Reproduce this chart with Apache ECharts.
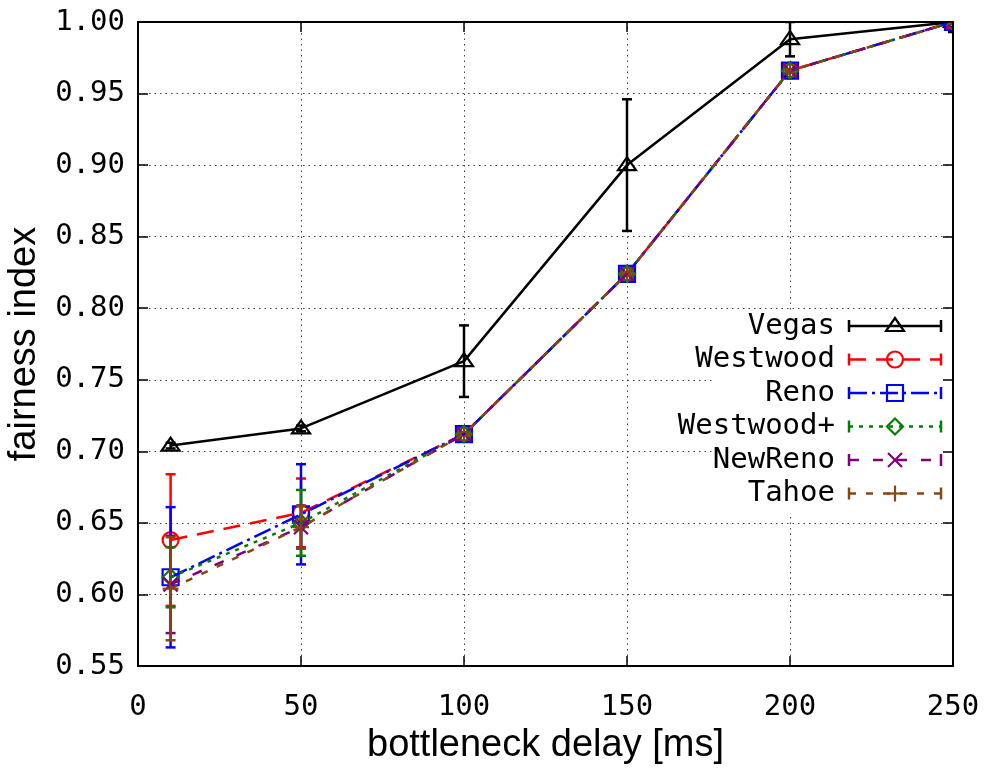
<!DOCTYPE html>
<html>
<head>
<meta charset="utf-8">
<script src="https://cdn.jsdelivr.net/npm/echarts@6/dist/echarts.min.js"></script>
<style>
html,body{margin:0;padding:0;background:#fff;}
#chart{width:985px;height:768px;}
</style>
</head>
<body>
<div id="chart"></div>
<script>
// ---- data ----
const delays = [10, 50, 100, 150, 200, 250];
const xTicks = [0, 50, 100, 150, 200, 250];
const yTicks = [0.55, 0.60, 0.65, 0.70, 0.75, 0.80, 0.85, 0.90, 0.95, 1.00];
const seriesNames = ['Vegas', 'Westwood', 'Reno', 'Westwood+', 'NewReno', 'Tahoe'];

const vegas       = [0.704, 0.716, 0.763, 0.900, 0.988, 1.000];
const vegasErr    = [0.002, 0.002, 0.025, 0.046, 0.012, 0.007];
const westwood    = [0.638, 0.657, 0.712, 0.824, 0.966, 1.000];
const westwoodErr = [0.046, 0.024, 0.001, 0.001, 0.001, 0.001];
const reno        = [0.612, 0.656, 0.712, 0.824, 0.966, 1.000];
const renoErr     = [0.049, 0.035, 0.001, 0.001, 0.001, 0.001];
const wplus       = [0.612, 0.650, 0.712, 0.824, 0.966, 1.000];
const wplusErr    = [0.021, 0.023, 0.001, 0.001, 0.001, 0.001];
const newreno     = [0.607, 0.647, 0.712, 0.824, 0.966, 1.000];
const newrenoErr  = [0.034, 0.015, 0.001, 0.001, 0.001, 0.001];
const tahoe       = [0.604, 0.647, 0.712, 0.824, 0.966, 1.000];
const tahoeErr    = [0.036, 0.015, 0.001, 0.001, 0.001, 0.001];

const values = [vegas, westwood, reno, wplus, newreno, tahoe];
const errors = [vegasErr, westwoodErr, renoErr, wplusErr, newrenoErr, tahoeErr];

// ---- styles ----
const colors = ['#000000', '#ff0000', '#0000ff', '#008000', '#800080', '#8b4513'];
const dashes = ['solid', [17, 10], [18, 5, 3, 5], [4, 6], [10, 14], [7, 10]];
const markers = ['tri', 'circ', 'sq', 'dia', 'x', 'plus'];
const monoFont = "'DejaVu Sans Mono', monospace";
const titleFont = "'Liberation Sans', Arial, sans-serif";
const LW = 2.5;

function markerEls(kind, cx, cy, color) {
  const st = {stroke: color, fill: 'none', lineWidth: 2.2};
  switch (kind) {
    case 'tri': return [{type: 'polygon', shape: {points: [[cx, cy - 8], [cx + 9, cy + 5], [cx - 9, cy + 5]]}, style: st}];
    case 'circ': return [{type: 'circle', shape: {cx: cx, cy: cy, r: 8}, style: st}];
    case 'sq': return [{type: 'rect', shape: {x: cx - 8, y: cy - 8, width: 16, height: 16}, style: st}];
    case 'dia': return [{type: 'polygon', shape: {points: [[cx, cy - 8], [cx + 8, cy], [cx, cy + 8], [cx - 8, cy]]}, style: st}];
    case 'x': return [
      {type: 'line', shape: {x1: cx - 7, y1: cy - 7, x2: cx + 7, y2: cy + 7}, style: st},
      {type: 'line', shape: {x1: cx + 7, y1: cy - 7, x2: cx - 7, y2: cy + 7}, style: st}];
    case 'plus': return [
      {type: 'line', shape: {x1: cx - 8, y1: cy, x2: cx + 8, y2: cy}, style: st},
      {type: 'line', shape: {x1: cx, y1: cy - 8, x2: cx, y2: cy + 8}, style: st}];
  }
  return [];
}

const series = [];
seriesNames.forEach(function (name, i) {
  const lineData = delays.map(function (d, j) { return [d, values[i][j]]; });
  const errData = delays.map(function (d, j) { return [d, values[i][j], errors[i][j]]; });
  series.push({
    name: name, type: 'line', data: lineData, showSymbol: false, symbol: 'none',
    lineStyle: {color: colors[i], width: LW, type: dashes[i]},
    animation: false, z: 2
  });
  series.push({
    name: name + ' err', type: 'custom', data: errData, clip: true,
    encode: {x: 0, y: 1}, animation: false, z: 2,
    renderItem: function (params, api) {
      const x = api.value(0), y = api.value(1), e = api.value(2);
      const p = api.coord([x, y]);
      const t = api.coord([x, y + e]);
      const b = api.coord([x, y - e]);
      const st = {stroke: colors[i], lineWidth: LW};
      const children = [
        {type: 'line', shape: {x1: t[0], y1: t[1], x2: b[0], y2: b[1]}, style: st},
        {type: 'line', shape: {x1: t[0] - 5, y1: t[1], x2: t[0] + 5, y2: t[1]}, style: st},
        {type: 'line', shape: {x1: b[0] - 5, y1: b[1], x2: b[0] + 5, y2: b[1]}, style: st}
      ].concat(markerEls(markers[i], p[0], p[1], colors[i]));
      return {type: 'group', children: children};
    }
  });
});

// ---- legend (graphic) ----
const graphics = [
  {type: 'rect', shape: {x: 713, y: 311, width: 239, height: 202}, style: {fill: '#ffffff'}, z: 1, silent: true}
];
seriesNames.forEach(function (name, i) {
  const ry = 326 + i * 33.5;
  const st = {stroke: colors[i], lineWidth: LW};
  graphics.push({type: 'text', x: 835, y: ry, z: 5,
    style: {text: name, fill: '#000', font: '29px ' + monoFont, textAlign: 'right', textVerticalAlign: 'middle'}});
  graphics.push({type: 'line', z: 5, shape: {x1: 849, y1: ry, x2: 941, y2: ry},
    style: {stroke: colors[i], lineWidth: LW, lineDash: dashes[i] === 'solid' ? null : dashes[i]}});
  graphics.push({type: 'line', z: 5, shape: {x1: 849, y1: ry - 6, x2: 849, y2: ry + 6}, style: st});
  graphics.push({type: 'line', z: 5, shape: {x1: 941, y1: ry - 6, x2: 941, y2: ry + 6}, style: st});
  markerEls(markers[i], 895, ry, colors[i]).forEach(function (el) { el.z = 5; graphics.push(el); });
});

const axisLineStyle = {color: '#000', width: 2};
const tickStyle = {inside: true, length: 10, lineStyle: {color: '#000', width: 1.5}};

const option = {
  backgroundColor: '#fff',
  animation: false,
  grid: {left: 138, right: 32, top: 22, bottom: 102, containLabel: false, outerBoundsMode: 'none'},
  xAxis: [
    {type: 'value', min: xTicks[0], max: xTicks[xTicks.length - 1], interval: 50, position: 'bottom',
     axisLine: {show: true, onZero: false, lineStyle: axisLineStyle},
     axisTick: tickStyle,
     splitLine: {show: true, lineStyle: {color: '#444', width: 1, type: [1.5, 4]}},
     axisLabel: {color: '#000', fontFamily: monoFont, fontSize: 29, margin: 27, hideOverlap: false},
     name: 'bottleneck delay [ms]', nameLocation: 'middle', nameGap: 61,
     nameTextStyle: {color: '#000', fontFamily: titleFont, fontSize: 38}},
    {type: 'value', min: xTicks[0], max: xTicks[xTicks.length - 1], interval: 50, position: 'top',
     axisLine: {show: true, onZero: false, lineStyle: axisLineStyle},
     axisTick: tickStyle, splitLine: {show: false}, axisLabel: {show: false}}
  ],
  yAxis: [
    {type: 'value', min: yTicks[0], max: yTicks[yTicks.length - 1], interval: 0.05, position: 'left',
     axisLine: {show: true, onZero: false, lineStyle: axisLineStyle},
     axisTick: tickStyle,
     splitLine: {show: true, lineStyle: {color: '#444', width: 1, type: [1.5, 4]}},
     axisLabel: {color: '#000', fontFamily: monoFont, fontSize: 29, margin: 13,
       formatter: function (v) { return v.toFixed(2); }},
     name: 'fairness index', nameLocation: 'middle', nameGap: 94,
     nameTextStyle: {color: '#000', fontFamily: titleFont, fontSize: 38}},
    {type: 'value', min: yTicks[0], max: yTicks[yTicks.length - 1], interval: 0.05, position: 'right', z: 10,
     axisLine: {show: true, onZero: false, lineStyle: axisLineStyle},
     axisTick: tickStyle, splitLine: {show: false}, axisLabel: {show: false}}
  ],
  graphic: graphics,
  series: series
};

const chart = echarts.init(document.getElementById('chart'), null, {renderer: 'canvas'});
chart.setOption(option);
</script>
</body>
</html>
